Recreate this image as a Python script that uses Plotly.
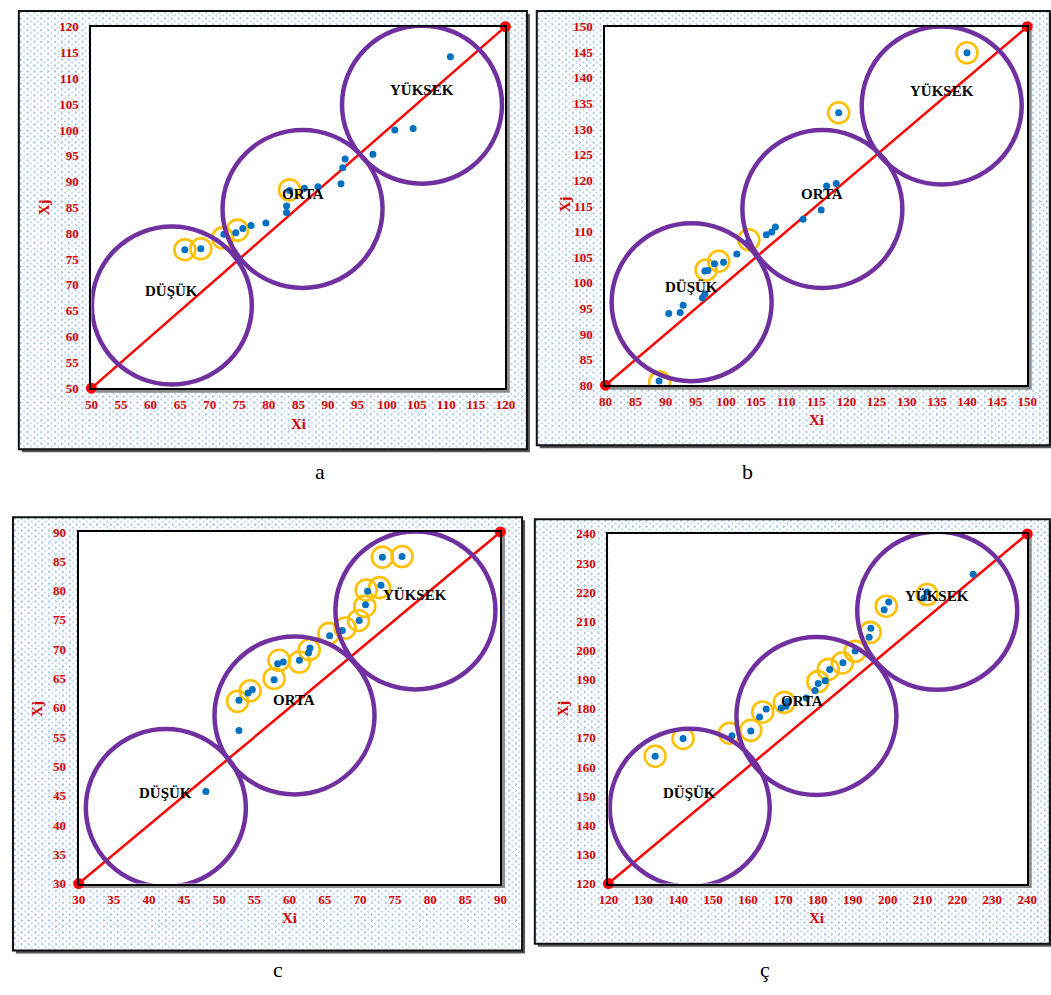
import base64
import plotly.graph_objects as go

W, H = 1051, 995

# ---------------- data ----------------
# panel a
A_X = [65.8, 68.5, 72.4, 74.4, 75.6, 77.0, 79.5, 83.0, 83.0, 83.5, 86.0, 88.3, 92.2, 92.5, 92.9, 97.6, 101.3, 104.4, 110.7]
A_Y = [76.8, 77.0, 79.8, 80.1, 80.9, 81.5, 82.0, 84.0, 85.3, 88.3, 88.7, 89.0, 89.6, 92.7, 94.4, 95.3, 100.0, 100.3, 114.2]
A_HX = [65.8, 68.5, 72.2, 74.7, 83.5]
A_HY = [76.8, 77.0, 79.1, 80.6, 88.4]
A_TICKS = list(range(50, 121, 5))

# panel b
B_X = [88.9, 90.5, 92.4, 92.9, 96.1, 96.5, 96.5, 97.0, 98.1, 99.6, 101.8, 103.7, 106.7, 107.6, 108.2, 112.8, 115.8, 116.7, 118.3, 118.7, 140.0]
B_Y = [80.8, 94.0, 94.2, 95.6, 97.1, 97.8, 102.3, 102.4, 103.7, 104.0, 105.6, 108.0, 109.4, 109.9, 110.9, 112.4, 114.2, 118.9, 119.4, 133.2, 144.9]
B_HX = [89.0, 96.7, 98.8, 103.8, 118.7, 140.0]
B_HY = [80.6, 102.5, 104.2, 108.4, 133.2, 144.9]
B_TICKS = list(range(80, 151, 5))

# panel c
C_X = [48.1, 52.8, 52.8, 54.1, 54.7, 57.8, 58.3, 59.1, 61.4, 62.7, 62.9, 65.7, 67.5, 69.9, 70.8, 71.1, 73.0, 73.2, 76.0]
C_Y = [45.7, 56.1, 61.3, 62.5, 63.1, 64.8, 67.5, 67.8, 68.1, 69.4, 70.2, 72.3, 73.2, 74.9, 77.6, 79.9, 80.9, 85.7, 85.8]
C_HX = [52.6, 54.4, 57.8, 58.5, 61.4, 62.8, 65.6, 67.9, 69.8, 70.7, 70.9, 72.8, 73.2, 76.0]
C_HY = [61.1, 62.9, 65.0, 68.1, 67.8, 69.9, 72.7, 73.6, 74.9, 77.3, 80.1, 80.5, 85.7, 85.8]
C_TICKS = list(range(30, 91, 5))

# panel ç
D_X = [133.4, 141.4, 155.4, 160.8, 163.3, 165.2, 169.5, 170.9, 171.4, 176.7, 179.2, 180.1, 182.1, 183.4, 187.2, 190.7, 194.7, 195.2, 199.0, 200.3, 210.4, 211.3, 224.5]
D_Y = [163.7, 169.8, 170.7, 172.4, 177.2, 179.9, 180.3, 180.9, 182.5, 183.7, 186.3, 188.7, 189.6, 193.5, 195.8, 199.8, 204.5, 207.6, 214.0, 216.6, 218.0, 220.1, 226.2]
D_HX = [133.4, 141.4, 154.7, 160.8, 164.2, 170.4, 180.0, 183.0, 187.0, 190.7, 195.0, 199.6, 211.3]
D_HY = [163.7, 169.8, 171.6, 172.6, 178.9, 182.2, 189.3, 193.5, 195.7, 199.7, 206.2, 215.2, 219.2]
D_TICKS = list(range(120, 241, 10))

GROUP_LABELS = ["DÜŞÜK", "ORTA", "YÜKSEK"]
A_GROUPS = [(63.6, 66.0), (85.7, 84.7), (105.9, 104.9)]
B_GROUPS = [(94.3, 96.2), (116.0, 114.4), (135.8, 134.6)]
C_GROUPS = [(42.4, 42.9), (60.7, 58.7), (77.9, 76.6)]
D_GROUPS = [(143.3, 146.0), (179.6, 177.5), (214.2, 213.6)]

CAPTIONS = ["a", "b", "c", "ç"]

# ---------------- styling ----------------
SERIF = "Liberation Serif"
RED = "#d40000"
PURPLE = "#7030a0"
BLUE = "#0070c0"
YELLOW = "#ffc000"


def fx(px):
    return px / W


def fy(py):
    return 1 - py / H


panels = [
    dict(ticks=A_TICKS, X=A_X, Y=A_Y, HX=A_HX, HY=A_HY, G=A_GROUPS,
         box=(83, 20, 505, 387), outer=(9, 4, 527, 449), cap=(316, 472),
         xt=(294, 423), yt=(35, 203), lab_dx=[0, 0, 0]),
    dict(ticks=B_TICKS, X=B_X, Y=B_Y, HX=B_HX, HY=B_HY, G=B_GROUPS,
         box=(607, 20, 1037, 384), outer=(537, 4, 1060, 445), cap=(752, 472),
         xt=(822, 419), yt=(566, 200), lab_dx=[0, 0, 0]),
    dict(ticks=C_TICKS, X=C_X, Y=C_Y, HX=C_HX, HY=C_HY, G=C_GROUPS,
         box=(70, 533, 500, 890), outer=(3, 518, 522, 958), cap=(273, 977),
         xt=(285, 925), yt=(28, 712), lab_dx=[0, 0, 0]),
    dict(ticks=D_TICKS, X=D_X, Y=D_Y, HX=D_HX, HY=D_HY, G=D_GROUPS,
         box=(610, 535, 1037, 890), outer=(535, 520, 1060, 951), cap=(770, 977),
         xt=(822, 925), yt=(564, 712), lab_dx=[0, -14, 0]),
]


def pattern_uri(w, h):
    svg = (
        f'<svg xmlns="http://www.w3.org/2000/svg" width="{w}" height="{h}">'
        '<defs><pattern id="p" width="7" height="6" patternUnits="userSpaceOnUse">'
        '<path d="M1 0.6 L2.8 1.5 L1 2.4" fill="none" stroke="#6f9fd8" stroke-width="0.9"/>'
        '<path d="M6.2 3.6 L4.4 4.5 L6.2 5.4" fill="none" stroke="#9dbfe8" stroke-width="0.9"/>'
        '</pattern></defs>'
        '<rect width="100%" height="100%" fill="#ffffff"/>'
        '<rect width="100%" height="100%" fill="url(#p)"/>'
        '</svg>'
    )
    return "data:image/svg+xml;base64," + base64.b64encode(svg.encode()).decode()


fig = go.Figure()
shapes = []
annotations = []
images = []
layout_axes = {}

for i, p in enumerate(panels):
    n = "" if i == 0 else str(i + 1)
    xref, yref = "x" + n, "y" + n
    lo, hi = p["ticks"][0], p["ticks"][-1]
    x0, y0, x1, y1 = p["box"]
    ox0, oy0, ox1, oy1 = p["outer"]

    # outer patterned frame
    images.append(dict(source=pattern_uri(ox1 - ox0, oy1 - oy0), xref="paper", yref="paper",
                       x=fx(ox0), y=fy(oy0), sizex=(ox1 - ox0) / W, sizey=(oy1 - oy0) / H,
                       xanchor="left", yanchor="top", sizing="stretch", layer="below"))
    shapes.append(dict(type="path", xref="paper", yref="paper", layer="below",
                       path=f"M{fx(ox0 + 3)},{fy(oy1 + 1.5)} L{fx(ox1 + 1.5)},{fy(oy1 + 1.5)} L{fx(ox1 + 1.5)},{fy(oy0 + 3)}",
                       line=dict(color="#555555", width=3)))
    shapes.append(dict(type="rect", xref="paper", yref="paper", layer="below",
                       x0=fx(ox0), x1=fx(ox1), y0=fy(oy1), y1=fy(oy0),
                       line=dict(color="#111111", width=2), fillcolor="rgba(0,0,0,0)"))
    # plot-area shadow and white fill
    shapes.append(dict(type="path", xref="paper", yref="paper", layer="below",
                       path=f"M{fx(x0 + 4)},{fy(y1 + 2.5)} L{fx(x1 + 2.5)},{fy(y1 + 2.5)} L{fx(x1 + 2.5)},{fy(y0 + 4)}",
                       line=dict(color="#8c8c8c", width=4)))
    shapes.append(dict(type="rect", xref="paper", yref="paper", layer="below",
                       x0=fx(x0), x1=fx(x1), y0=fy(y1), y1=fy(y0),
                       line=dict(width=0), fillcolor="#ffffff"))

    tickfont = dict(family=SERIF, size=13, color=RED, weight="bold")
    layout_axes["xaxis" + n] = dict(
        domain=[fx(x0), fx(x1)], range=[lo, hi], anchor=yref, tickvals=p["ticks"],
        showgrid=False, zeroline=False, showline=True, mirror=True, linecolor="#000000",
        linewidth=2, ticks="", tickfont=tickfont, ticklabelstandoff=3)
    layout_axes["yaxis" + n] = dict(
        domain=[fy(y1), fy(y0)], range=[lo, hi], anchor=xref, tickvals=p["ticks"],
        showgrid=False, zeroline=False, showline=True, mirror=True, linecolor="#000000",
        linewidth=2, ticks="", tickfont=tickfont, ticklabelstandoff=8)

    # red identity line
    fig.add_trace(go.Scatter(x=[lo, hi], y=[lo, hi], xaxis=xref, yaxis=yref, mode="lines+markers",
                             line=dict(color="#ff0000", width=2.5), marker=dict(color="#ff0000", size=11),
                             cliponaxis=False, showlegend=False, hoverinfo="skip"))
    # yellow highlight rings
    fig.add_trace(go.Scatter(x=p["HX"], y=p["HY"], xaxis=xref, yaxis=yref, mode="markers",
                             marker=dict(symbol="circle-open", size=21, color=YELLOW, line=dict(width=2.6)),
                             showlegend=False, hoverinfo="skip"))
    # data points
    fig.add_trace(go.Scatter(x=p["X"], y=p["Y"], xaxis=xref, yaxis=yref, mode="markers",
                             marker=dict(color=BLUE, size=7), showlegend=False))

    # group circles + labels
    for k, (cx, cy) in enumerate(p["G"]):
        shapes.append(dict(type="circle", xref=xref, yref=yref, layer="above",
                           xsizemode="pixel", ysizemode="pixel", xanchor=cx, yanchor=cy,
                           x0=-80, x1=80, y0=-79, y1=79,
                           line=dict(color=PURPLE, width=4.5)))
        annotations.append(dict(x=cx, y=cy, xref=xref, yref=yref, text=GROUP_LABELS[k],
                                showarrow=False, yshift=15, xshift=p["lab_dx"][k],
                                xanchor="center", yanchor="middle",
                                font=dict(family=SERIF, size=15, color="#000000", weight="bold")))

    # axis titles
    annotations.append(dict(x=fx(p["xt"][0]), y=fy(p["xt"][1]), xref="paper", yref="paper", text="Xi",
                            showarrow=False, xanchor="center", yanchor="middle",
                            font=dict(family=SERIF, size=15, color=RED, weight="bold")))
    annotations.append(dict(x=fx(p["yt"][0]), y=fy(p["yt"][1]), xref="paper", yref="paper", text="Xj",
                            showarrow=False, textangle=-90, xanchor="center", yanchor="middle",
                            font=dict(family=SERIF, size=15, color=RED, weight="bold")))
    # caption
    annotations.append(dict(x=fx(p["cap"][0]), y=fy(p["cap"][1]), xref="paper", yref="paper",
                            text=CAPTIONS[i], showarrow=False, xanchor="center", yanchor="middle",
                            font=dict(family=SERIF, size=22, color="#000000")))

fig.update_layout(
    width=W, height=H, margin=dict(l=0, r=0, t=0, b=0),
    paper_bgcolor="#ffffff", plot_bgcolor="rgba(0,0,0,0)",
    shapes=shapes, annotations=annotations, images=images, showlegend=False,
    **layout_axes,
)

fig.write_html("out.html", config={"displayModeBar": False},
               post_script="document.body.style.margin='0';")
